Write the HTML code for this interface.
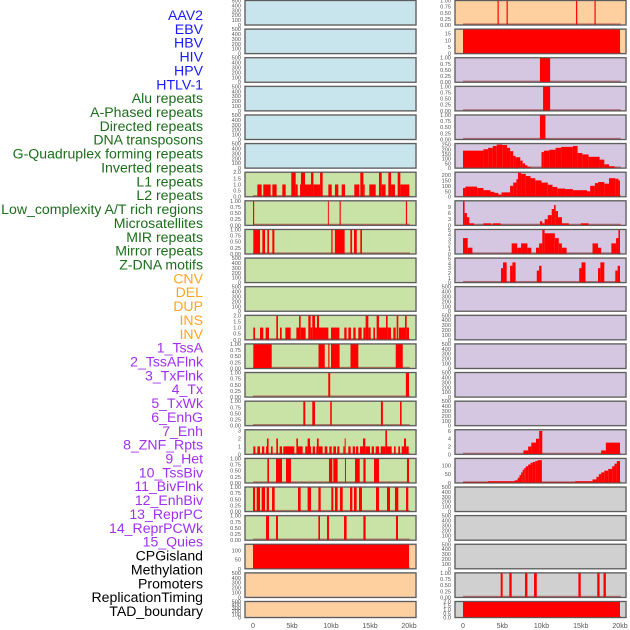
<!DOCTYPE html>
<html><head><meta charset="utf-8">
<style>
html,body{margin:0;padding:0;background:#fff;}
svg{display:block;font-family:"Liberation Sans",sans-serif;}
</style></head>
<body>
<svg id="chart" width="630" height="630" viewBox="0 0 630 630"></svg>
<script>
// ---- labels ----
const labelNames = ["AAV2","EBV","HBV","HIV","HPV","HTLV-1","Alu repeats","A-Phased repeats","Directed repeats","DNA transposons","G-Quadruplex forming repeats","Inverted repeats","L1 repeats","L2 repeats","Low_complexity A/T rich regions","Microsatellites","MIR repeats","Mirror repeats","Z-DNA motifs","CNV","DEL","DUP","INS","INV","1_TssA","2_TssAFlnk","3_TxFlnk","4_Tx","5_TxWk","6_EnhG","7_Enh","8_ZNF_Rpts","9_Het","10_TssBiv","11_BivFlnk","12_EnhBiv","13_ReprPC","14_ReprPCWk","15_Quies","CPGisland","Methylation","Promoters","ReplicationTiming","TAD_boundary"];
const labelGroups = [6,13,5,15,5];
const groupColors = ["#1a1aff","#1a6e1a","#ffa520","#a030f0","#000000"];

// ---- axis ticks ----
const xTicks = [0,5,10,15,20];
const xTickLabels = ["0","5kb","10kb","15kb","20kb"];
const emptyTicks = [0,100,200,300,400,500];
const unitTicks = [0,0.25,0.5,0.75,1];
const unitTickLabels = ["0.00","0.25","0.50","0.75","1.00"];

// ---- left column series (kb start, kb end, value) ----
const L7 = [[0.56,1.11,1],[1.32,2.26,1],[2.48,3.03,1],[3.76,4.19,1],[4.91,5.47,2],[5.47,5.73,1],[6.03,6.15,1],[6.15,6.67,2],[6.67,7.44,1],[7.44,7.74,2],[7.74,8.6,1],[8.6,8.93,2],[9.66,10.09,1],[10.51,10.94,1],[11.37,11.8,1],[12.99,13.63,1],[13.76,14.15,2],[14.15,14.32,1],[14.91,15.73,1],[16.15,16.5,2],[16.5,17.0,1],[17.35,17.7,2],[17.7,18.2,1],[18.55,18.89,2],[18.89,20.04,1]];
const L8 = [[0,0.15,1],[9.6,9.72,1],[11.1,11.25,1],[19.6,19.75,1]];
const L9 = [[0.04,0.9,1],[1.2,1.54,1],[1.84,2.05,1],[2.48,2.74,1],[10.04,10.2,1],[10.5,11.75,1],[12.48,12.7,1],[12.95,13.3,1],[13.76,13.97,1]];
const L12 = [[0.04,0.26,1],[0.9,1.32,1],[1.62,2.05,1],[2.99,3.2,2],[3.46,3.68,1],[4.15,4.83,1],[5.56,5.9,1],[5.9,6.11,2],[6.11,6.75,1],[7.09,7.39,2],[7.39,7.6,1],[7.6,7.95,2],[7.95,8.2,1],[8.2,8.46,2],[8.46,9.66,1],[10.0,11.07,1],[11.7,12.0,1],[12.22,12.56,1],[12.86,13.16,1],[13.5,13.93,1],[14.15,14.44,1],[14.44,14.79,2],[14.79,15.09,1],[15.43,15.64,1],[15.85,16.15,2],[16.15,17.05,1],[17.05,17.26,2],[17.26,17.69,1],[17.99,18.29,1],[18.42,18.63,2],[18.72,19.49,1],[19.49,19.7,2],[19.7,20.0,1]];
const L13 = [[0.04,2.4,1],[8.4,9.2,1],[9.65,9.8,1],[10.0,11.1,1],[12.5,13.5,1],[18.3,19.2,1]];
const L14 = [[9.65,9.9,1],[19.6,20.0,1]];
const L15 = [[6.45,6.7,1],[7.6,7.95,1],[9.9,10.1,1],[16.4,16.65,1],[18.85,19.05,1]];
const L16 = [[0.04,0.3,1],[0.56,0.9,1],[1.15,1.45,1],[1.67,1.79,1],[1.79,2.0,2],[2.3,2.52,1],[2.99,3.2,2],[3.42,3.72,1],[3.89,5.3,1],[5.56,5.77,2],[5.77,6.37,1],[6.7,7.0,1],[7.0,7.31,2],[7.31,7.44,1],[7.65,7.95,1],[8.12,8.2,1],[8.2,8.42,2],[8.42,8.93,1],[9.19,9.53,1],[9.79,10.09,1],[10.3,10.64,1],[10.81,11.07,1],[11.58,11.75,1],[11.75,11.88,2],[12.22,12.52,1],[12.78,13.08,1],[13.2,13.5,1],[13.72,14.1,1],[14.1,14.4,2],[14.4,15.0,1],[15.21,15.51,1],[15.73,16.15,1],[16.37,16.97,1],[16.97,17.18,3],[17.18,17.78,1],[18.08,18.29,1],[18.63,18.85,1],[19.06,19.36,1],[19.36,19.62,2],[19.62,19.96,1]];
const L17 = [[1.84,2.05,1],[2.95,3.72,1],[4.23,4.87,1],[9.74,10.17,1],[10.3,10.85,1],[11.79,11.92,1],[13.08,13.68,1],[14.15,14.44,1],[15.51,16.15,1],[19.74,20.0,1]];
const L18 = [[0,0.26,1],[0.47,0.9,1],[1.11,1.54,1],[1.75,2.05,1],[2.44,2.78,1],[5.77,6.11,1],[7.0,7.44,1],[8.38,8.68,1],[10.04,10.3,1],[10.51,10.85,1],[11.15,11.5,1],[12.44,12.74,1],[12.95,13.29,1],[13.59,13.97,1],[15.77,16.15,1],[17.18,17.56,1],[18.2,18.63,1],[19.62,19.91,1]];
const L19 = [[1.67,2.05,1],[2.95,3.2,1],[8.38,8.59,1],[9.49,9.74,1],[11.67,12.0,1],[14.15,14.44,1],[18.33,18.59,1]];
const L20 = [[0,20,134]];

// ---- right column series ----
const R1 = [[4.4,4.55,1],[5.55,5.7,1],[14.4,14.55,1],[16.75,16.9,1]];
const R2 = [[0,20,18.4]];
const R3 = [[9.8,11.1,1]];
const R4 = [[10.2,11.1,1]];
const R5 = [[9.8,10.5,1]];
const R6 = [[0,2.6,185],[2.6,3.2,200],[3.2,3.8,215],[3.8,4.3,235],[4.3,5.0,250],[5.0,5.6,245],[5.6,6.0,215],[6.0,6.4,180],[6.4,6.7,130],[6.7,7.3,115],[7.3,7.6,80],[7.6,7.9,50],[7.9,8.2,30],[8.2,8.6,15],[10.0,10.3,170],[10.3,11,185],[11,11.8,195],[11.8,12.5,215],[12.5,14.0,225],[14.0,14.6,235],[14.6,15.2,160],[15.2,16.0,145],[16.0,17.4,120],[17.4,18.0,90],[18.0,18.6,40],[18.6,19.3,20],[19.3,19.6,8]];
const R7 = [[0,0.3,80],[0.3,1.8,93],[1.8,2.6,80],[2.6,3.5,60],[3.5,4.0,45],[4.0,4.5,35],[4.5,4.9,20],[4.9,6.0,40],[6.0,6.4,100],[6.4,6.8,130],[6.8,7.0,160],[7.0,7.4,220],[7.4,8.0,210],[8.0,8.6,190],[8.6,9.2,170],[9.2,10,150],[10,10.8,130],[10.8,11.4,110],[11.4,12,90],[12,13,75],[13,14,70],[14,15.8,60],[15.8,16.2,50],[16.2,16.8,100],[16.8,17.2,125],[17.2,18,135],[18,18.6,120],[18.6,19.4,170],[19.4,19.8,165],[19.8,20,150]];
const R8 = [[0,0.2,12],[0.2,0.5,6],[0.5,0.8,4],[0.8,1.4,1],[2.6,3.6,1],[3.8,4.8,1],[9.8,10.1,2],[10.1,10.4,1],[10.4,10.8,3],[10.8,11.3,5],[11.3,11.6,8],[11.6,11.8,10],[11.8,12.1,7],[12.1,12.6,4],[12.6,13.5,1],[15.0,16.0,1]];
const R9 = [[0,0.6,3.3],[0.6,1.2,1.3],[6.2,6.9,2.2],[6.9,7.4,1.3],[7.4,8.2,2.2],[8.2,8.7,1.3],[9.3,9.7,1.3],[9.7,10.1,2.2],[10.1,10.4,5],[10.4,11.7,4.3],[11.7,12.2,3.3],[12.2,12.6,2.2],[12.6,13.2,1.3],[16.5,17.2,2.2],[17.2,17.6,1.3],[18.9,19.5,2.2],[19.5,19.8,3.3],[19.8,20,5]];
const R10 = [[4.84,5.1,3],[5.1,5.56,4.2],[6.0,6.3,3.5],[6.3,6.7,4.2],[9.4,9.7,2.5],[9.7,10.0,3.5],[14.8,15.1,3],[15.1,15.6,4.2],[17.2,17.5,3],[17.5,18.0,4.2],[19.4,19.7,2.5],[19.7,20.0,3.5]];
const R16 = [[7.7,8.3,1],[8.3,8.7,2],[8.7,9.3,3],[9.3,9.7,4],[9.7,10.1,6],[17.6,18.2,1],[18.2,20,3]];
const R17 = [[0,3.2,5],[3.2,6.6,10],[6.6,6.9,15],[6.9,7.0,20],[7.0,7.2,30],[7.2,7.4,45],[7.4,7.6,60],[7.6,7.8,75],[7.8,8.0,85],[8.0,8.3,95],[8.3,8.6,105],[8.6,8.9,115],[8.9,9.2,120],[9.2,9.5,125],[9.5,10.05,130],[10.05,14.3,5],[14.3,16.5,10],[16.5,17,20],[17,17.3,35],[17.3,17.6,50],[17.6,18,60],[18,18.5,70],[18.5,19,80],[19,19.3,95],[19.3,19.6,110],[19.6,20,125]];
const R21 = [[4.8,5.05,1],[5.9,6.2,1],[7.9,8.2,1],[9.05,9.4,1],[14.7,15.0,1],[17.1,17.4,1],[17.9,18.2,1]];
const R22 = [[0,20,2]];

const BLUE="#c8e4ec", GREEN="#c9e2a6", ORANGE="#fecf9f", PURPLE="#d5c6e1", GRAY="#d0d0d0";
const E = null;
const leftPanels = [
 [E,500,emptyTicks,E,BLUE],[E,500,emptyTicks,E,BLUE],[E,500,emptyTicks,E,BLUE],[E,500,emptyTicks,E,BLUE],[E,500,emptyTicks,E,BLUE],[E,500,emptyTicks,E,BLUE],
 [L7,2,[0,0.5,1,1.5,2],["0.0","0.5","1.0","1.5","2.0"],GREEN],[L8,1,unitTicks,unitTickLabels,GREEN],[L9,1,unitTicks,unitTickLabels,GREEN],
 [E,500,emptyTicks,E,GREEN],[E,500,emptyTicks,E,GREEN],[L12,2,[0,0.5,1,1.5,2],["0.0","0.5","1.0","1.5","2.0"],GREEN],
 [L13,1,unitTicks,unitTickLabels,GREEN],[L14,1,unitTicks,unitTickLabels,GREEN],[L15,1,unitTicks,unitTickLabels,GREEN],
 [L16,3.1,[0,1,2,3],E,GREEN],[L17,1,unitTicks,unitTickLabels,GREEN],[L18,1,unitTicks,unitTickLabels,GREEN],[L19,1,unitTicks,unitTickLabels,GREEN],
 [L20,134,[0,50,100],E,ORANGE],[E,500,emptyTicks,E,ORANGE],[E,500,emptyTicks,E,ORANGE]
];
const rightPanels = [
 [R1,1,unitTicks,unitTickLabels,ORANGE],[R2,18.4,[0,5,10,15],E,ORANGE],
 [R3,1,unitTicks,unitTickLabels,PURPLE],[R4,1,unitTicks,unitTickLabels,PURPLE],[R5,1,unitTicks,unitTickLabels,PURPLE],
 [R6,260,[0,50,100,150,200,250],E,PURPLE],[R7,225,[0,50,100,150,200],E,PURPLE],[R8,12,[0,3,6,9],E,PURPLE],
 [R9,5.1,[0,1,2,3,4,5],E,PURPLE],[R10,5.1,[0,1,2,3,4,5],E,PURPLE],[E,500,emptyTicks,E,PURPLE],[E,500,emptyTicks,E,PURPLE],
 [E,500,emptyTicks,E,PURPLE],[E,500,emptyTicks,E,PURPLE],[E,500,emptyTicks,E,PURPLE],
 [R16,6.3,[0,2,4,6],E,PURPLE],[R17,140,[0,50,100],E,PURPLE],
 [E,500,emptyTicks,E,GRAY],[E,500,emptyTicks,E,GRAY],[E,500,emptyTicks,E,GRAY],
 [R21,1,unitTicks,unitTickLabels,GRAY],[R22,2,[0,0.5,1,1.5,2],["0.0","0.5","1.0","1.5","2.0"],GRAY]
];

const NS="http://www.w3.org/2000/svg";
const svg=document.getElementById('chart');
function mk(tag,attrs,parent){const e=document.createElementNS(NS,tag);for(const k in attrs)e.setAttribute(k,attrs[k]);(parent||svg).appendChild(e);return e;}

let li=0;
labelGroups.forEach((n,g)=>{for(let j=0;j<n;j++){
  const t=mk('text',{x:203,y:15+li*13.86+5,'text-anchor':'end','font-size':'14.1',fill:groupColors[g]});
  t.textContent=labelNames[li];
  
  
  li++;}});

const cols=[{x0:245,x1:416,z:253,s:7.8,tx:241},{x0:455,x1:626,z:463,s:7.85,tx:451}];
function drawPanel(spec,i,c,side){
  const [series,max,ticks,tlabels,bg]=spec;
  const top=0.5+i*28.62, h=(i===21)?16:24.5, bot=top+h;
  const xs=kb=>c.z+kb*c.s;
  const ys=v=>bot-(v/max)*h;
  const g=mk('g',{});
  
  
  mk('rect',{x:c.x0,y:top,width:c.x1-c.x0,height:h,fill:bg,stroke:'#9a9a9a','stroke-width':1.6},g);
  if(series){
    mk('rect',{x:xs(0),y:bot-1.6,width:xs(20.1)-xs(0),height:1.2,fill:'rgba(150,30,30,0.55)'},g);
    series.forEach(d=>{
      const b=mk('rect',{x:xs(d[0]),y:ys(d[2]),width:Math.max(0.8,xs(d[1])-xs(d[0])),height:bot-ys(d[2]),fill:'#ff0000'},g);
      
      
    });
  }
  mk('rect',{x:c.x0,y:top,width:c.x1-c.x0,height:h,fill:'none',stroke:'#555','stroke-width':0.9},g);
  ticks.forEach((tv,k)=>{
    const t=mk('text',{x:c.tx,y:ys(tv)+2,'text-anchor':'end','font-size':'5.6',fill:'#555'},g);
    t.textContent=tlabels?tlabels[k]:String(tv);
  });
}
leftPanels.forEach((p,i)=>drawPanel(p,i,cols[0],'left'));
rightPanels.forEach((p,i)=>drawPanel(p,i,cols[1],'right'));

cols.forEach((c,ci)=>{xTicks.forEach((kb,k)=>{
  const t=mk('text',{x:c.z+kb*c.s,y:628,'text-anchor':'middle','font-size':'7',fill:'#555'});
  t.textContent=xTickLabels[k];
  
  
});});
</script>
</body></html>
